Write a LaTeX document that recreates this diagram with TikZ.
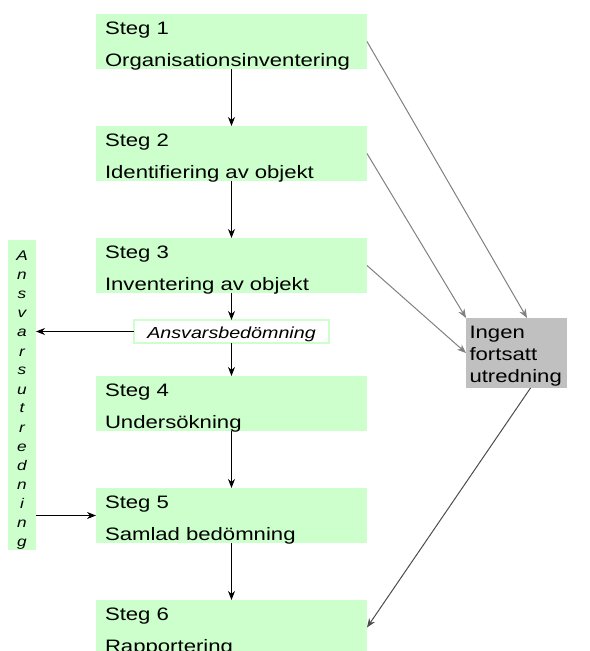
\documentclass[tikz,border=0pt]{standalone}
\usepackage{fontspec}
\setmainfont{Liberation Sans}[FakeStretch=1.23]
\usetikzlibrary{positioning,arrows.meta}
\definecolor{stepgreen}{HTML}{CCFFCC}
\definecolor{stopgray}{HTML}{C0C0C0}
\begin{document}
\begin{tikzpicture}[x=0.5pt,y=-0.5pt,
    stepbox/.style={fill=stepgreen, minimum width=135.5pt, minimum height=27.5pt,
        text width=126.5pt, inner xsep=4.5pt, inner ysep=0pt, outer sep=0pt, align=left,
        text height=10.15pt, text depth=17.35pt, font=\fontsize{9}{16.2}\selectfont},
    stopbox/.style={fill=stopgray, minimum width=50.5pt, minimum height=35pt,
        text width=47pt, inner xsep=1.75pt, inner ysep=0pt, outer sep=0pt, align=left,
        text height=10pt, text depth=25pt, font=\fontsize{9}{11}\selectfont},
    sidebox/.style={fill=stepgreen, minimum width=14pt, minimum height=155pt,
        text width=14pt, inner sep=0pt, outer sep=0pt, align=center,
        text height=10.5pt, text depth=144.5pt, font=\fontsize{7}{9.5}\selectfont\itshape},
    judgebox/.style={draw=stepgreen, line width=1pt, fill=white, minimum width=97.5pt,
        minimum height=11.5pt, inner sep=0pt, outer sep=0pt, text height=9pt, text depth=2.5pt,
        font=\fontsize{8}{9}\selectfont\itshape},
    flow/.style={-{Stealth[length=4.5pt,width=3.5pt]}, line width=0.5pt},
    skip/.style={flow, draw=gray}]
\clip (0,0) rectangle (589,651);

\node[stepbox] (s1) at (231.5,41.5) {Steg 1\\Organisationsinventering};
\node[stepbox, below=28.5pt of s1] (s2) {Steg 2\\Identifiering av objekt};
\node[stepbox, below=28.5pt of s2] (s3) {Steg 3\\Inventering av objekt};
\node[judgebox, below=13.5pt of s3] (ans) {Ansvarsbedömning};
\node[stepbox, below=16.5pt of ans] (s4) {Steg 4\\Undersökning};
\node[stepbox, below=28.5pt of s4] (s5) {Steg 5\\Samlad bedömning};
\node[stepbox, below=28.5pt of s5] (s6) {Steg 6\\Rapportering};
\node[sidebox] (side) at (22,395) {A\\n\\s\\v\\a\\r\\s\\u\\t\\r\\e\\d\\n\\i\\n\\g};
\node[stopbox] (stop) at (516.5,353) {Ingen\\fortsatt\\utredning};

\draw[flow] (s1) -- (s2);
\draw[flow] (s2) -- (s3);
\draw[flow] (s3) -- (ans);
\draw[flow] (ans) -- (s4);
\draw[flow] (s4) -- (s5);
\draw[flow] (s5) -- (s6);
\draw[flow] (ans.west) -- (ans.west -| side.east);
\draw[flow] (side.east |- s5.west) -- (s5.west);
\draw[skip] (s1.east) -- ([xshift=5.25pt]stop.north);
\draw[skip] (s2.east) -- (stop.north west);
\draw[skip] (s3.east) -- (stop.west);
\draw[flow, draw=gray!60!black] ([xshift=7pt]stop.south) -- (s6.east);
\end{tikzpicture}
\end{document}
